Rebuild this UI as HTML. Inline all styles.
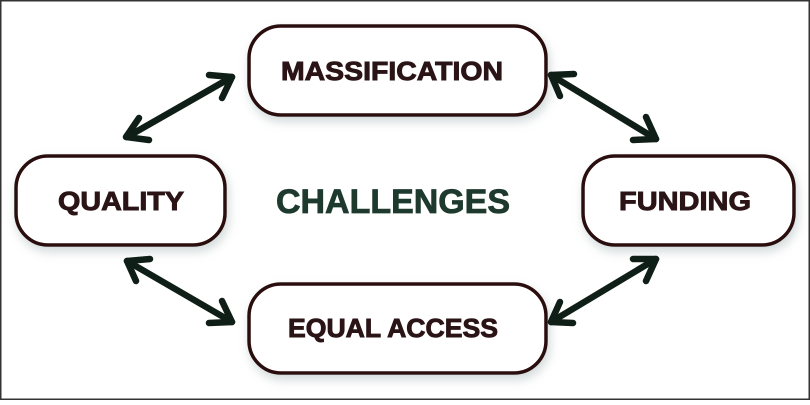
<!DOCTYPE html>
<html><head><style>
html,body{margin:0;padding:0;}
body{width:810px;height:400px;overflow:hidden;background:#fff;}
</style></head><body>
<svg width="810" height="400" xmlns="http://www.w3.org/2000/svg">
<defs>
<filter id="sh" x="-20%" y="-20%" width="140%" height="160%"><feDropShadow dx="2" dy="5" stdDeviation="5" flood-color="#9aa" flood-opacity="0.45"/></filter>
</defs>
<rect x="0.75" y="0.75" width="808.5" height="398.5" fill="#fff" stroke="#333" stroke-width="1.5"/>
<g fill="#fff" stroke="#2a0a0c" stroke-width="3.5" filter="url(#sh)">
<rect x="249" y="26" width="297" height="89" rx="32"/>
<rect x="16" y="156" width="209" height="89" rx="32"/>
<rect x="583" y="156" width="211" height="89" rx="32"/>
<rect x="249" y="284" width="297" height="89" rx="32"/>
</g>
<g font-family="Liberation Sans, sans-serif" font-weight="bold" text-anchor="middle" fill="#2a1416" stroke="#2a1416" stroke-width="0.9" font-size="26">
<text x="392" y="80" textLength="222" lengthAdjust="spacingAndGlyphs">MASSIFICATION</text>
<text x="121" y="210" textLength="126" lengthAdjust="spacingAndGlyphs">QUALITY</text>
<text x="685" y="210" textLength="132" lengthAdjust="spacingAndGlyphs">FUNDING</text>
<text x="393" y="337" textLength="210" lengthAdjust="spacingAndGlyphs">EQUAL ACCESS</text>
</g>
<text x="393" y="213" font-family="Liberation Sans, sans-serif" font-weight="bold" font-size="34" text-anchor="middle" fill="#1e3a2e" stroke="#1e3a2e" stroke-width="0.8" textLength="234" lengthAdjust="spacingAndGlyphs">CHALLENGES</text>
<g stroke="#0f1f18" stroke-width="6.5" fill="none" stroke-linecap="round" stroke-linejoin="round">
<line x1="127" y1="137" x2="232" y2="77"/>
<polyline points="139,118 126,137 149,140"/>
<polyline points="209,75 232,77 222,98"/>
<line x1="551" y1="75" x2="656" y2="139"/>
<polyline points="574,74 551,75 560,96"/>
<polyline points="646,117 656,139 633,140"/>
<line x1="127" y1="261" x2="232" y2="322"/>
<polyline points="150,259 127,261 136,281"/>
<polyline points="222,301 232,322 209,323"/>
<line x1="551" y1="322" x2="656" y2="259"/>
<polyline points="560,302 551,322 573,323"/>
<polyline points="633,259 656,259 646,281"/>
</g>
</svg>
</body></html>
